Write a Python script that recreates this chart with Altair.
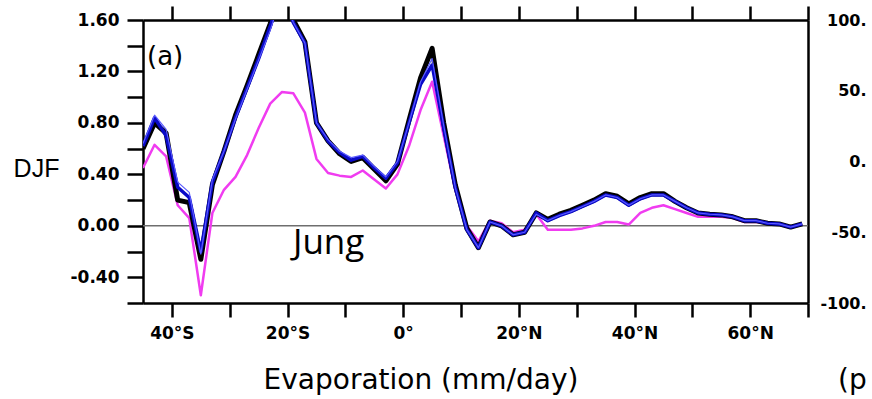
import altair as alt
import pandas as pd

# latitude grid (deg, negative = south)
lon = list(range(-45, 70, 2))

black = [0.60, 0.80, 0.72, 0.20, 0.18, -0.26, 0.32, 0.58, 0.86, 1.09,
         1.33, 1.57, 1.85, 1.60, 1.43, 0.80, 0.66, 0.56, 0.50, 0.53,
         0.44, 0.35, 0.48, 0.82, 1.15, 1.38, 0.80, 0.32, -0.02, -0.17,
         0.03, 0.00, -0.07, -0.05, 0.10, 0.05, 0.09, 0.12, 0.16, 0.20,
         0.25, 0.23, 0.17, 0.22, 0.25, 0.25, 0.19, 0.14, 0.10, 0.09,
         0.085, 0.07, 0.04, 0.04, 0.02, 0.015, -0.01, 0.015]
blue = [0.62, 0.84, 0.70, 0.30, 0.22, -0.20, 0.34, 0.58, 0.84, 1.07,
        1.30, 1.55, 1.82, 1.58, 1.42, 0.80, 0.66, 0.57, 0.51, 0.54,
        0.45, 0.37, 0.49, 0.80, 1.10, 1.25, 0.76, 0.30, -0.03, -0.17,
        0.03, 0.00, -0.07, -0.05, 0.10, 0.04, 0.08, 0.11, 0.15, 0.19,
        0.24, 0.22, 0.16, 0.21, 0.24, 0.24, 0.19, 0.14, 0.10, 0.09,
        0.085, 0.07, 0.04, 0.04, 0.02, 0.015, -0.01, 0.015]
thin_blue = [0.64, 0.86, 0.75, 0.34, 0.26, -0.22, 0.36, 0.58, 0.83, 1.06,
             1.29, 1.52, 1.80, 1.58, 1.42, 0.80, 0.67, 0.58, 0.53, 0.55,
             0.46, 0.38, 0.50, 0.80, 1.12, 1.30, 0.78, 0.30, -0.03, -0.17,
             0.03, 0.00, -0.07, -0.05, 0.09, 0.04, 0.08, 0.11, 0.15, 0.19,
             0.24, 0.22, 0.16, 0.21, 0.24, 0.24, 0.19, 0.14, 0.10, 0.09,
             0.085, 0.07, 0.04, 0.04, 0.02, 0.015, -0.01, 0.015]
magenta = [0.45, 0.63, 0.54, 0.16, 0.06, -0.54, 0.10, 0.28, 0.38, 0.55,
           0.76, 0.95, 1.04, 1.03, 0.88, 0.52, 0.41, 0.39, 0.38, 0.43,
           0.36, 0.29, 0.40, 0.62, 0.90, 1.12, 0.70, 0.28, 0.00, -0.12,
           0.04, 0.02, -0.05, -0.03, 0.09, -0.03, -0.03, -0.03, -0.02, 0.00,
           0.03, 0.03, 0.01, 0.10, 0.14, 0.16, 0.13, 0.10, 0.07, 0.07,
           0.07, 0.06, 0.03, 0.03, 0.02, 0.01, -0.01, 0.01]

x_ticks = [-40, -30, -20, -10, 0, 10, 20, 30, 40, 50, 60, 70]
x_label_vals = [-40, -20, 0, 20, 40, 60]
x_label_txt = ["40°S", "20°S", "0°", "20°N", "40°N", "60°N"]
y_ticks = [-0.6, -0.4, -0.2, 0.0, 0.2, 0.4, 0.6, 0.8, 1.0, 1.2, 1.4, 1.6]
y_label_vals = [-0.4, 0.0, 0.4, 0.8, 1.2, 1.6]
y_label_txt = ["-0.40", "0.00", "0.40", "0.80", "1.20", "1.60"]
r_ticks = [100, 50, 0, -50, -100]
r_label_txt = ["100.", "50.", "0.", "-50.", "-100."]

X_DOM = [-45, 70]
Y_DOM = [-0.6, 1.6]
R_DOM = [-100, 100]

def mapping_expr(vals, txts):
    expr = "''"
    for v, t in zip(vals, txts):
        expr = f"abs(datum.value - ({v})) < 1e-6 ? '{t}' : ({expr})"
    return expr

FONT = "DejaVu Sans"
FRAME = dict(domain=True, domainColor="black", domainWidth=2.5, grid=False, title=None)
xs = alt.Scale(domain=X_DOM, nice=False, zero=False)
ys = alt.Scale(domain=Y_DOM, nice=False, zero=False)

def series(vals):
    return pd.DataFrame({"lon": lon, "v": vals})

x_bottom = alt.Axis(orient="bottom", values=x_ticks, labelExpr=mapping_expr(x_label_vals, x_label_txt),
                    tickSize=14, tickWidth=2.5, tickColor="black",
                    labelFont=FONT, labelFontWeight="bold", labelFontSize=17, labelColor="black",
                    labelPadding=8, labelOverlap=False, labelFlush=False, **FRAME)
y_left = alt.Axis(orient="left", values=y_ticks, labelExpr=mapping_expr(y_label_vals, y_label_txt),
                  tickSize=16, tickWidth=2.5, tickColor="black",
                  labelFont=FONT, labelFontWeight="bold", labelFontSize=17, labelColor="black",
                  labelPadding=8, labelOverlap=False, **FRAME)

zero = alt.Chart(pd.DataFrame({"z": [0.0]})).mark_rule(color="#6e6e6e", strokeWidth=1.5).encode(
    y=alt.Y("z:Q", scale=ys, axis=None))

def line(vals, color, width, axes=False):
    return alt.Chart(series(vals)).mark_line(color=color, strokeWidth=width, clip=True,
                                             strokeJoin="round").encode(
        x=alt.X("lon:Q", scale=xs, axis=x_bottom if axes else None),
        y=alt.Y("v:Q", scale=ys, axis=y_left if axes else None))

l_mag = line(magenta, "#f03cf0", 2.5, axes=True)
l_blk = line(black, "#000000", 5.0)
l_blu = line(blue, "#0a0ac8", 3.5)
l_thn = line(thin_blue, "#5a5aff", 1.2)

def label(txt, x, y, size, font, align="left", weight="normal"):
    return alt.Chart(pd.DataFrame({"t": [txt]})).mark_text(
        font=font, fontSize=size, align=align, baseline="alphabetic", color="black",
        fontWeight=weight).encode(text="t:N", x=alt.value(x), y=alt.value(y))

t_djf = label("DJF", -106.5, 157, 25, "Liberation Sans", align="center")
t_a = label("(a)", 4, 45, 26, FONT)
t_jung = label("Jung", 150, 234, 35, "Open Sans")
t_evap = label("Evaporation (mm/day)", 278, 369, 28, FONT, align="center")
t_p = label("(p", 695, 369, 28, FONT)

top = alt.Chart(pd.DataFrame({"lon": x_ticks, "v": [0.0] * len(x_ticks)})).mark_point(opacity=0).encode(
    x=alt.X("lon:Q", scale=xs, axis=alt.Axis(orient="top", values=x_ticks, labels=False,
                                             tickSize=14, tickWidth=2.5, tickColor="black", **FRAME)),
    y=alt.Y("v:Q", scale=ys, axis=None))

right = alt.Chart(pd.DataFrame({"lon": [0] * len(r_ticks), "r": r_ticks})).mark_point(opacity=0).encode(
    x=alt.X("lon:Q", scale=xs, axis=None),
    y=alt.Y("r:Q", scale=alt.Scale(domain=R_DOM, nice=False, zero=False),
            axis=alt.Axis(orient="right", values=r_ticks, labelExpr=mapping_expr(r_ticks, r_label_txt),
                          ticks=False, tickSize=0,
                          labelAlign="right", labelPadding=58, labelFont=FONT, labelFontWeight="bold",
                          labelFontSize=16, labelColor="black", labelOverlap=False, **FRAME)))

chart = alt.layer(zero, l_mag, l_blk, l_blu, l_thn, t_djf, t_a, t_jung, t_evap, t_p, top, right
                  ).resolve_scale(y="independent").resolve_axis(x="independent").properties(
    width=665, height=283,
    autosize=alt.AutoSizeParams(type="none"),
    padding={"left": 143, "top": 20, "right": 64, "bottom": 96},
).configure_view(stroke="black", strokeWidth=2.5).configure(background="white")

chart.save("out.html", embed_options={"renderer": "svg", "actions": False})
